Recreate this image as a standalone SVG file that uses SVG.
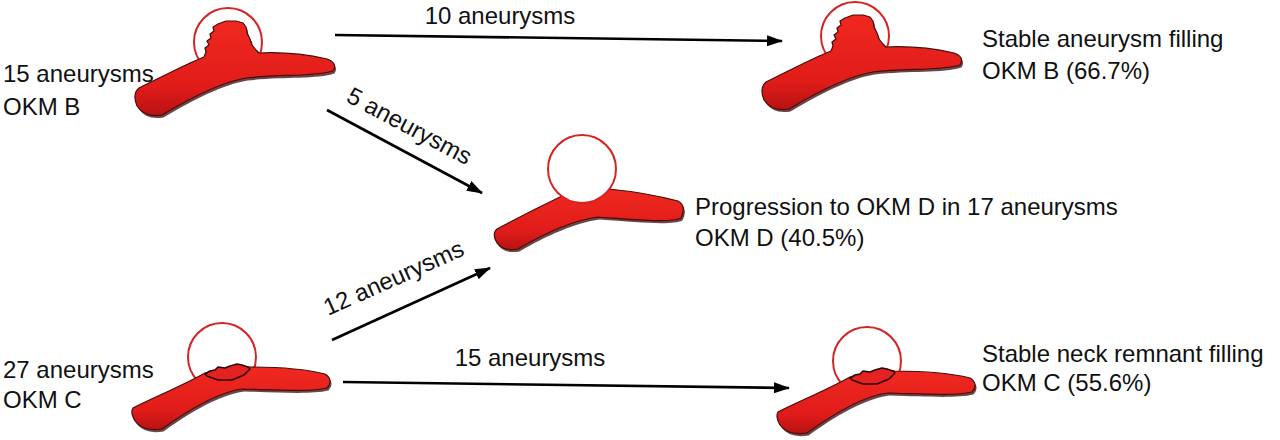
<svg xmlns="http://www.w3.org/2000/svg" width="1280" height="440" viewBox="0 0 1280 440">
<style>
text{font-family:"Liberation Sans",Arial,sans-serif;font-size:24px;fill:#111}
.ring{fill:#fff;stroke:#d42424;stroke-width:2}
.ringo{fill:none;stroke:#d42424;stroke-width:2}
.ves{fill:url(#vg);stroke:#4a0b0b;stroke-width:1.2;stroke-linejoin:round}
.sh{fill:#3a0808;opacity:0.75}
.rem{fill:#e42222;stroke:#2a0808;stroke-width:1.6;stroke-linejoin:round}
.arr{stroke:#000;stroke-width:2.6;fill:none;marker-end:url(#ah)}
</style>
<defs>
<linearGradient id="vg" x1="0" y1="0" x2="0" y2="1">
<stop offset="0" stop-color="#f0281f"/>
<stop offset="0.7" stop-color="#e01c1a"/>
<stop offset="1" stop-color="#b81212"/>
</linearGradient>
<marker id="ah" markerUnits="userSpaceOnUse" markerWidth="18" markerHeight="12" refX="15" refY="5.5" orient="auto">
<path d="M0,0 L16,5.5 L0,11 Z" fill="#000"/>
</marker>
<path id="vesB" d="M139,88 C155,80 175,70 190,63 L204,57 L206,52 L205,48 L209,45 L207,41 L211,38 L210,34 L214,31 L213,27 L218,24 L226,21 L236,21 L243,23 L246,27 L247,33 L250,39 L252,45 L256,50 L259,53 C280,52 305,54 327,59 Q338,63 333,71 C315,77 280,74 246,78 C222,82 192,97 162,115 Q145,118 137,106 Q132,94 139,88 Z"/>
<path id="vesC" d="M133,408 C150,399 180,387 205,373 C230,367 245,366 250,367 C275,367 305,369 325,374 Q334,380 327,388 C310,392 280,390 243,389 C225,391 198,403 162,429 Q143,432 135,421 Q130,412 133,408 Z"/>
<path id="remC" d="M205,374 L210,371 L215,370 L218,367 L225,368 L230,366 L237,364 L242,365 L248,367 L250,369 L244,375 L232,380 L218,380 L207,376 Z"/>
</defs>

<g id="connectors">
<path class="arr" d="M335,35 L782,41"/>
<path class="arr" d="M327,110 L482,193"/>
<path class="arr" d="M332,340 L490,268"/>
<path class="arr" d="M343,382 L789,388"/>
<text x="500" y="24" text-anchor="middle">10 aneurysms</text>
<text transform="translate(345,101) rotate(28)">5 aneurysms</text>
<text transform="translate(328,316) rotate(-24)">12 aneurysms</text>
<text x="530" y="366" text-anchor="middle">15 aneurysms</text>
</g>

<g id="node-okmb-start">
<circle class="ring" cx="228" cy="42" r="34"/>
<use href="#vesB" class="sh" transform="translate(1.5,2.5)"/>
<use href="#vesB" class="ves"/>
<text x="3" y="82">15 aneurysms</text>
<text x="3" y="115">OKM B</text>
</g>

<g id="node-okmb-end">
<g transform="translate(627,-6)">
<circle class="ring" cx="228" cy="42" r="34"/>
<use href="#vesB" class="sh" transform="translate(1.5,2.5)"/>
<use href="#vesB" class="ves"/>
</g>
<text x="982" y="47">Stable aneurysm filling</text>
<text x="982" y="79">OKM B (66.7%)</text>
</g>

<g id="node-okmd">
<path class="sh" transform="translate(1.5,2.5)" d="M497,229 C510,222 535,209 562,196 C585,189 600,188 608,189 C630,191 655,195 678,201 Q687,206 681,218 C670,223 640,220 598,217 C575,220 545,233 518,249 Q500,252 495,239 Q493,232 497,229 Z"/>
<path class="ves" d="M497,229 C510,222 535,209 562,196 C585,189 600,188 608,189 C630,191 655,195 678,201 Q687,206 681,218 C670,223 640,220 598,217 C575,220 545,233 518,249 Q500,252 495,239 Q493,232 497,229 Z"/>
<circle class="ring" cx="582" cy="169" r="34"/>
<text x="695" y="215">Progression to OKM D in 17 aneurysms</text>
<text x="695" y="246">OKM D (40.5%)</text>
</g>

<g id="node-okmc-start">
<circle class="ringo" cx="222" cy="357" r="34"/>
<use href="#vesC" class="sh" transform="translate(1.5,2.5)"/>
<use href="#vesC" class="ves"/>
<use href="#remC" class="rem"/>
<text x="3" y="378">27 aneurysms</text>
<text x="3" y="408">OKM C</text>
</g>

<g id="node-okmc-end">
<g transform="translate(645,4)">
<circle class="ringo" cx="222" cy="357" r="34"/>
<use href="#vesC" class="sh" transform="translate(1.5,2.5)"/>
<use href="#vesC" class="ves"/>
<use href="#remC" class="rem"/>
</g>
<text x="982" y="362">Stable neck remnant filling</text>
<text x="982" y="391">OKM C (55.6%)</text>
</g>
</svg>
